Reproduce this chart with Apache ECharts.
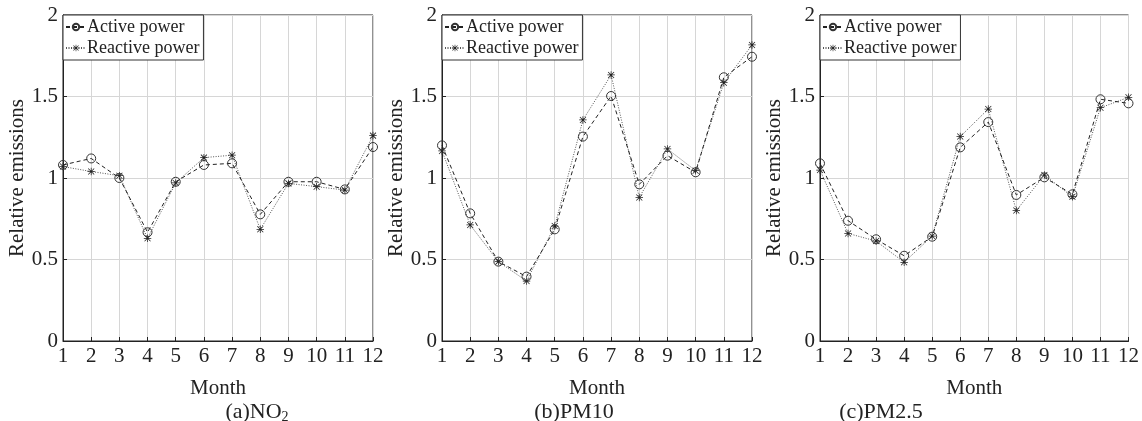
<!DOCTYPE html>
<html><head><meta charset="utf-8">
<script src="https://cdn.jsdelivr.net/npm/echarts@6/dist/echarts.min.js"></script>
<style>html,body{margin:0;padding:0;background:#fff}#c{width:1142px;height:421px}</style>
</head><body><div id="c"></div>
<script>
const months = [1,2,3,4,5,6,7,8,9,10,11,12];
const yTicks = [0, 0.5, 1, 1.5, 2];
const no2Active    = [1.08,1.12,1.00,0.667,0.977,1.08,1.09,0.777,0.977,0.977,0.93,1.19];
const no2Reactive  = [1.07,1.04,1.014,0.63,0.97,1.125,1.14,0.685,0.967,0.947,0.926,1.26];
const pm10Active   = [1.2,0.783,0.487,0.395,0.685,1.254,1.503,0.961,1.137,1.035,1.618,1.744];
const pm10Reactive = [1.166,0.712,0.487,0.368,0.705,1.356,1.632,0.881,1.178,1.045,1.585,1.816];
const pm25Active   = [1.09,0.738,0.624,0.523,0.64,1.188,1.343,0.896,1.004,0.9,1.483,1.458];
const pm25Reactive = [1.049,0.66,0.613,0.483,0.644,1.254,1.423,0.8,1.018,0.885,1.431,1.495];
const panelTitles = ['(a)NO{sub|2}', '(b)PM10', '(c)PM2.5'];
const seriesNames = ['Active power', 'Reactive power'];

const FONT = '"Liberation Serif","Times New Roman",serif';
const STAR = 'path://M0,9L20,9L20,11L0,11Z M9,0L11,0L11,20L9,20Z M2.7,1.3L18.7,17.3L17.3,18.7L1.3,2.7Z M17.3,1.3L18.7,2.7L2.7,18.7L1.3,17.3Z';

const panels = [
  {a: no2Active, r: no2Reactive, left: 63, titleX: 252},
  {a: pm10Active, r: pm10Reactive, left: 442, titleX: 569},
  {a: pm25Active, r: pm25Reactive, left: 820, titleX: 876}
];
const W = 310, TOP = 15, H = 326;

const grid = [], xAxis = [], yAxis = [], series = [], legend = [], title = [];
panels.forEach((p, k) => {
  grid.push({left: p.left, top: TOP, width: W, height: H, show: true, borderColor: '#222', borderWidth: 1, containLabel: false});
  xAxis.push({
    type: 'value', gridIndex: k, min: 1, max: 12, interval: 1,
    name: 'Month', nameLocation: 'middle', nameGap: 37,
    nameTextStyle: {fontFamily: FONT, fontSize: 21, color: '#222'},
    axisLine: {show: true, lineStyle: {color: '#222'}},
    axisTick: {show: true, inside: true, length: 4, lineStyle: {color: '#222'}},
    axisLabel: {fontFamily: FONT, fontSize: 21, color: '#222', margin: 5},
    splitLine: {show: true, lineStyle: {color: '#d6d6d6', width: 1}}
  });
  yAxis.push({
    type: 'value', gridIndex: k, min: 0, max: 2, interval: 0.5,
    name: 'Relative emissions', nameLocation: 'middle', nameGap: 35,
    nameTextStyle: {fontFamily: FONT, fontSize: 21, color: '#222'},
    axisLine: {show: true, lineStyle: {color: '#222'}},
    axisTick: {show: true, inside: true, length: 4, lineStyle: {color: '#222'}},
    axisLabel: {fontFamily: FONT, fontSize: 21, color: '#222', margin: 5,
      formatter: v => yTicks.includes(v) ? String(v) : ''},
    splitLine: {show: true, lineStyle: {color: '#d6d6d6', width: 1}}
  });
  series.push({
    name: seriesNames[0], type: 'line', xAxisIndex: k, yAxisIndex: k,
    data: months.map((m, i) => [m, p.a[i]]),
    symbol: 'circle', symbolSize: 9,
    lineStyle: {color: '#222', width: 1, type: [4, 3]},
    itemStyle: {color: 'rgba(255,255,255,0)', borderColor: '#333', borderWidth: 1},
    z: 3
  });
  series.push({
    name: seriesNames[1], type: 'line', xAxisIndex: k, yAxisIndex: k,
    data: months.map((m, i) => [m, p.r[i]]),
    symbol: STAR, symbolSize: 7.5,
    lineStyle: {color: '#555', width: 1, type: [1, 1.5]},
    itemStyle: {color: '#222', borderWidth: 0},
    z: 2
  });
  legend.push({
    left: p.left, top: TOP, orient: 'vertical',
    data: seriesNames, itemWidth: 20, itemHeight: 8, itemGap: 3,
    padding: [3, 4, 3, 2],
    backgroundColor: '#fff', borderColor: '#333', borderWidth: 1,
    textStyle: {fontFamily: FONT, fontSize: 18, color: '#222', padding: [0, 0, 0, -4]},
    selectedMode: false
  });
  title.push({
    text: panelTitles[k], left: p.titleX, top: 396, textAlign: 'center',
    textStyle: {fontFamily: FONT, fontSize: 22, fontWeight: 'normal', color: '#222',
      rich: {sub: {fontFamily: FONT, fontSize: 14, color: '#222', verticalAlign: 'bottom', padding: [9, 0, 0, 0]}}}
  });
});

const chart = echarts.init(document.getElementById('c'), null, {renderer: 'canvas'});
chart.setOption({animation: false, backgroundColor: '#fff', grid, xAxis, yAxis, series, legend, title});
</script>
</body></html>
